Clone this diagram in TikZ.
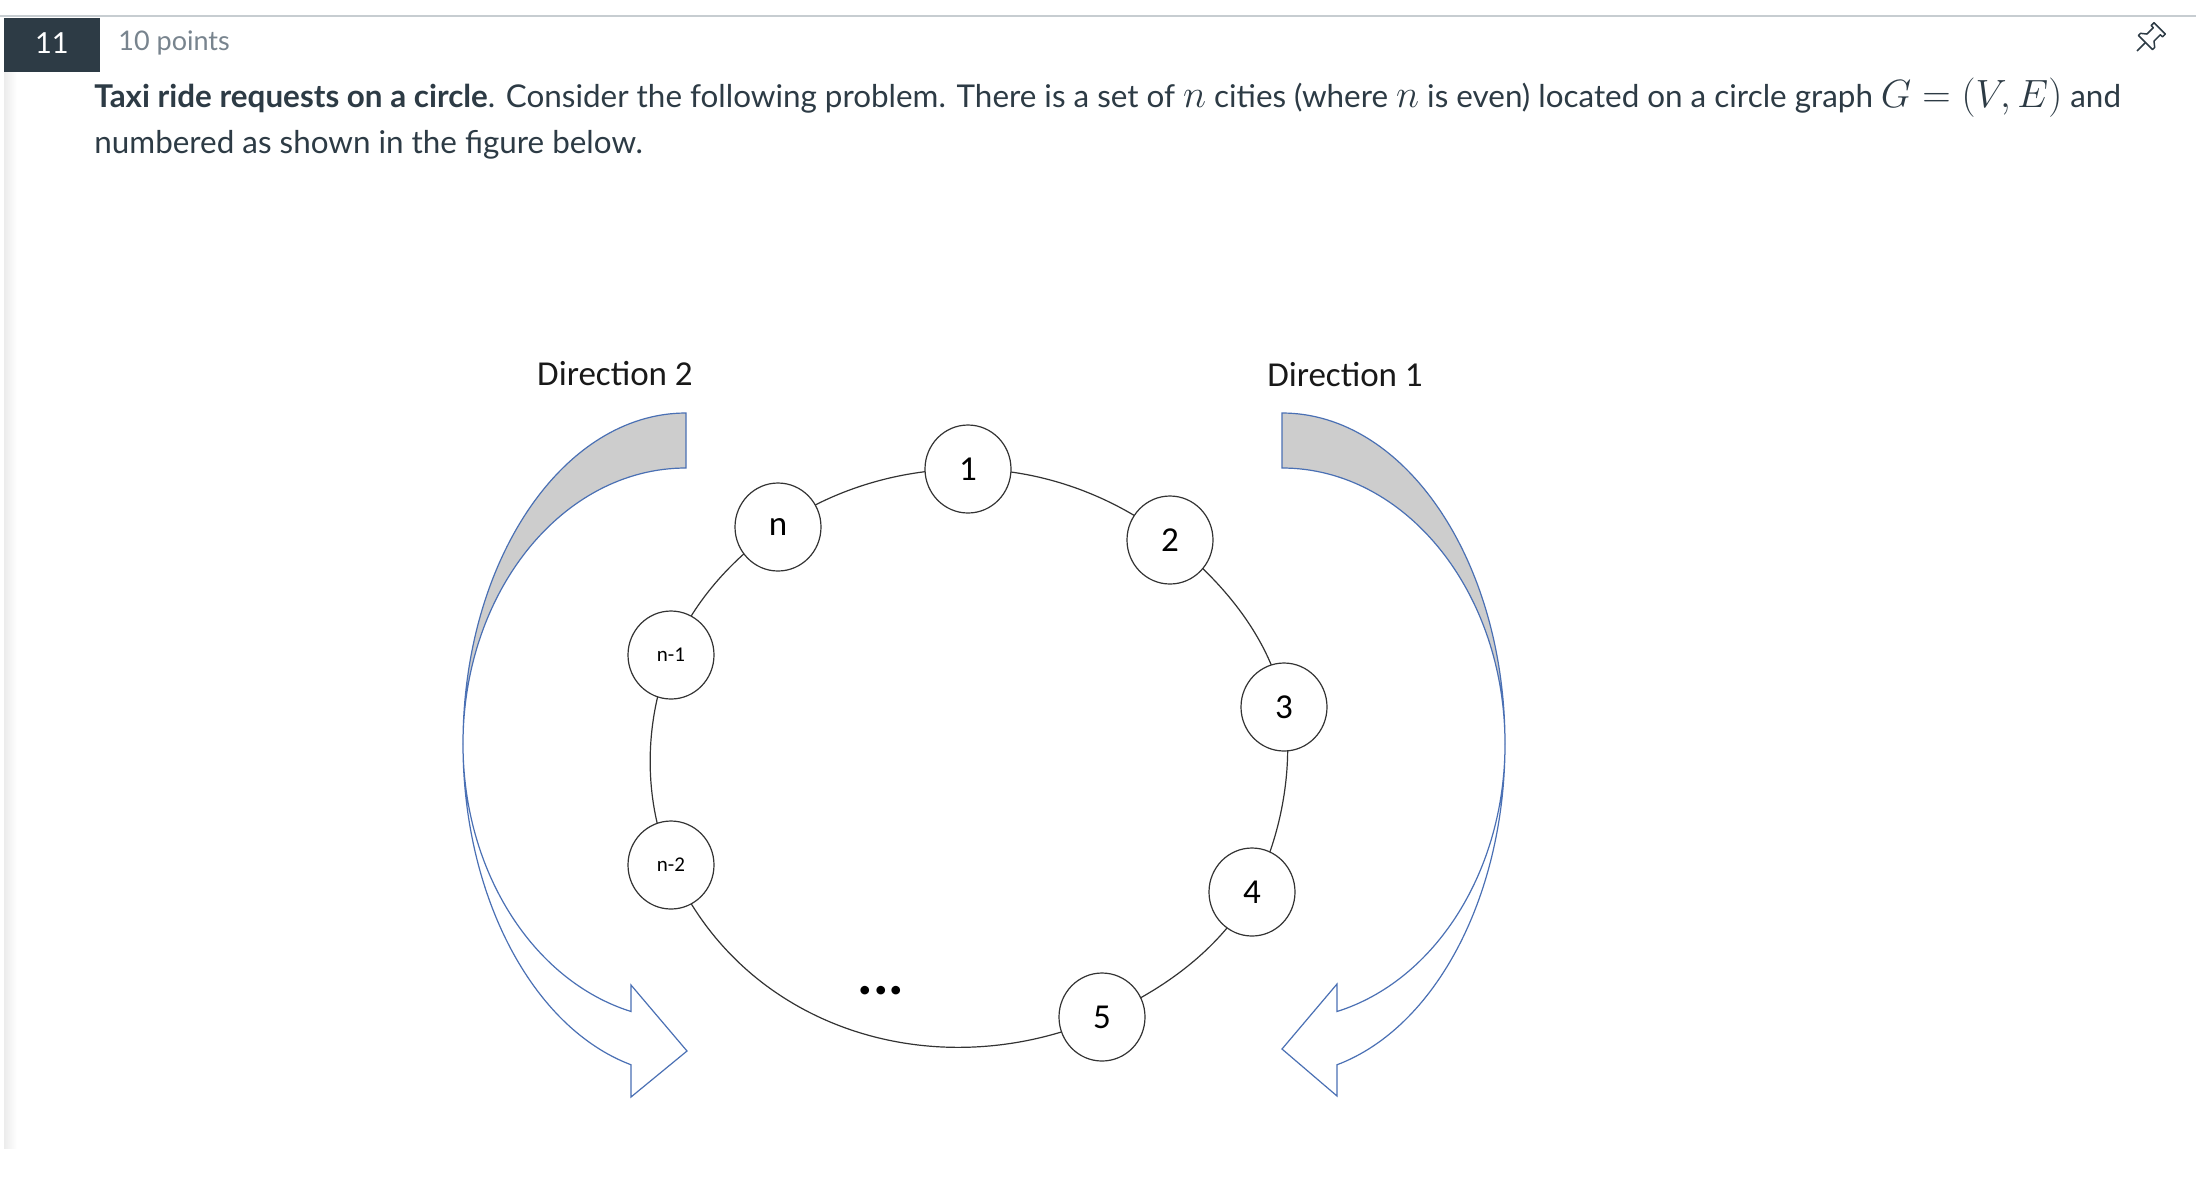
\documentclass[tikz,border=0pt]{standalone}
\usepackage{graphicx}
\usepackage{fontspec}
\setmainfont{Lato}
\newfontfamily\calib{Carlito}
\usetikzlibrary{shapes.geometric}
\pgfdeclarelayer{paper}
\pgfdeclarelayer{ringlayer}
\pgfsetlayers{paper,ringlayer,main}
\definecolor{canvastext}{RGB}{45,59,69}
\definecolor{ptsgray}{RGB}{120,132,142}
\definecolor{rulegray}{RGB}{199,205,209}
\definecolor{stripgray}{RGB}{236,236,236}
\definecolor{arrowblue}{RGB}{74,112,180}
\definecolor{shadegray}{RGB}{205,205,205}
\newcommand{\mth}[1]{{\fontsize{17.28}{20}\selectfont\scalebox{1.14}{$#1$}}}
\begin{document}
\begin{tikzpicture}[x=0.5pt,y=0.5pt,
  city/.style={ellipse, draw=black!80, line width=0.6pt, fill=white,
    minimum width=43pt, minimum height=44pt, inner sep=0pt,
    font=\calib\fontsize{17.5}{20}\selectfont},
  smallcity/.style={city, font=\calib\fontsize{10.5}{12}\selectfont},
  ringedge/.style={draw=black!80, line width=0.6pt, looseness=0.87},
  bentarrow/.style={draw=arrowblue, line width=0.6pt, line join=miter},
  dirlabel/.style={font=\calib\fontsize{17.5}{20}\selectfont, anchor=base, inner sep=0pt, text=black!90},
  txt/.style={anchor=base west, inner sep=0pt, text=canvastext, font=\fontsize{15.7}{18}\selectfont}
]
\useasboundingbox (0,-1180) rectangle (2196,0);
\begin{pgfonlayer}{paper}
\fill[white] (0,-1180) rectangle (2196,0);
\end{pgfonlayer}

% header
\draw[rulegray, line width=1pt] (0,-16) -- (2196,-16);
\fill[canvastext] (4,-18) rectangle (100,-72);
\node[anchor=base, text=white, font=\fontsize{14.5}{16}\selectfont, inner sep=0pt] (qnum) at (52,-53) {11};
\node[anchor=base west, text=ptsgray, font=\fontsize{13.5}{15}\selectfont, inner sep=0pt] (pts) at (118,-50) {10 points};
\shade[left color=stripgray, right color=white] (4,-72) rectangle (17,-1148);

% pin icon
\begin{scope}[shift={(2137,-51)}, rotate=45, draw=canvastext, line width=0.75pt, line join=round]
  \draw (0,0) -- (12,0);
  \draw (12,-10) -- (12,10) -- (15,10) -- (19,5) -- (28,5) -- (28,8) -- (32,8)
        -- (32,-8) -- (28,-8) -- (28,-5) -- (19,-5) -- (15,-10) -- cycle;
\end{scope}

% question text
\node[txt] (line1) at (94,-107) {\textbf{Taxi ride requests on a circle}. Consider the following problem. There is a set of \mth{n} cities (where \mth{n} is even) located on a circle graph \mth{G=(V,E)} and};
\node[txt] (line2) at (94,-153) {numbered as shown in the figure below.};

% curved arrows
% Direction 1 (right)
\filldraw[bentarrow, fill=shadegray] (1282,-413)
  arc[start angle=90, end angle=0, x radius=223, y radius=331]
  arc[start angle=0, end angle=90, x radius=223, y radius=276] -- cycle;
\filldraw[bentarrow, fill=white] (1505,-744)
  arc[start angle=0, end angle=-75.72, x radius=223, y radius=331]
  -- (1337,-1096) -- (1282,-1049) -- (1337,-984) -- (1337,-1011.5)
  arc[start angle=-75.72, end angle=0, x radius=223, y radius=276] -- cycle;
% Direction 2 (left)
\filldraw[bentarrow, fill=shadegray] (686,-413)
  arc[start angle=90, end angle=180, x radius=223, y radius=331]
  arc[start angle=180, end angle=90, x radius=223, y radius=276] -- cycle;
\filldraw[bentarrow, fill=white] (463,-744)
  arc[start angle=180, end angle=255.72, x radius=223, y radius=331]
  -- (631,-1097) -- (687,-1051) -- (631,-985) -- (631,-1011.5)
  arc[start angle=255.72, end angle=180, x radius=223, y radius=276] -- cycle;

\node[dirlabel] (d2) at (615,-385) {Direction 2};
\node[dirlabel] (d1) at (1345,-386) {Direction 1};

% cities
\node[city] (c1) at (968,-469) {1};
\node[city] (c2) at (1170,-540) {2};
\node[city] (c3) at (1284,-707) {3};
\node[city] (c4) at (1252,-892) {4};
\node[city] (c5) at (1102,-1017) {5};
\node[smallcity] (cn2) at (671,-865) {n-2};
\node[smallcity] (cn1) at (671,-655) {n-1};
\node[city] (cn) at (778,-527) {n};
\node[font=\calib\bfseries\fontsize{29}{30}\selectfont, inner sep=0pt] (dots) at (881,-991) {...};

% ring edges (centre to centre, under the white city discs)
\begin{pgfonlayer}{ringlayer}
\draw[ringedge] (c1.center) to[out=0, in=141.8] (c2.center);
\draw[ringedge] (c2.center) to[out=-38.2, in=100.7] (c3.center);
\draw[ringedge, looseness=0.8] (c3.center) to[out=-79.3, in=60.6] (c4.center);
\draw[ringedge] (c4.center) to[out=240.6, in=23.6] (c5.center);
\draw[ringedge, looseness=1.01] (c5.center) to[out=203.6, in=293.5] (cn2.center);
\draw[ringedge] (cn2.center) to[out=113.5, in=247.6] (cn1.center);
\draw[ringedge] (cn1.center) to[out=67.6, in=214.5] (cn.center);
\draw[ringedge] (cn.center) to[out=34.5, in=180] (c1.center);
\end{pgfonlayer}
\end{tikzpicture}
\end{document}
